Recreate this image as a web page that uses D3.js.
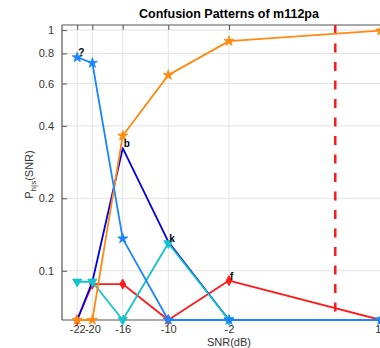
<!DOCTYPE html>
<html><head><meta charset="utf-8">
<script src="https://cdn.jsdelivr.net/npm/d3@7"></script>
<style>body{margin:0;background:#fff;} svg{display:block;font-family:"Liberation Sans",Arial,Helvetica,sans-serif;}</style>
</head><body>
<script>
// ---- data ----
const snr = [-22, -20, -16, -10, -2, 18];
const xTicks = [-22, -20, -16, -10, -2, 18];
const yTicks = [0.1, 0.2, 0.4, 0.6, 0.8, 1];
const yTickLabels = ["0.1", "0.2", "0.4", "0.6", "0.8", "1"];
const seriesNames = ["f", "b", "k", "p", "?"];
const seriesColors = ["#ff1a1a", "#0000e8", "#14c4cc", "#ff8a10", "#1a85ff"];
const seriesMarkers = ["diamond", "none", "triangleDown", "star", "star"];
const valsF = [0, 0.088, 0.088, 0, 0.091, 0];
const valsB = [0, 0.09, 0.323, 0.132, 0, 0];
const valsK = [0.09, 0.09, 0, 0.13, 0, 0];
const valsP = [0, 0, 0.364, 0.65, 0.90, 0.995];
const valsQ = [0.77, 0.73, 0.136, 0, 0, 0];
const labelIdx = [4, 2, 3, -1, 0]; // index of point getting a text label
const thresholdSNR = 12;
const titleText = "Confusion Patterns of m112pa";

// ---- layout ----
const W = 380, H = 348;
const m = {left: 62, right: 396, top: 25, bottom: 320};
const yMin = 0.0624, yMax = 1.05;

const svg = d3.select("body").append("svg").attr("width", W).attr("height", H);
const x = d3.scaleLinear().domain([-24, 20]).range([m.left, m.right]);
const y = d3.scaleLog().domain([yMin, yMax]).range([m.bottom, m.top]);
const yv = v => y(Math.max(v, yMin));

// grid
const g = svg.append("g");
g.selectAll(".gx").data(xTicks).join("line")
  .attr("x1", d => x(d)).attr("x2", d => x(d)).attr("y1", m.top).attr("y2", m.bottom)
  .attr("stroke", "#e3e3e3").attr("stroke-width", 1);
g.selectAll(".gy").data(yTicks).join("line")
  .attr("x1", m.left).attr("x2", m.right).attr("y1", d => y(d)).attr("y2", d => y(d))
  .attr("stroke", "#e3e3e3").attr("stroke-width", 1);

// axes
const axB = d3.axisBottom(x).tickValues(xTicks).tickSize(-5).tickPadding(5).tickFormat(d => String(d));
const axL = d3.axisLeft(y).tickValues(yTicks).tickSize(-5).tickPadding(8).tickFormat((d, i) => yTickLabels[i]);
const axT = d3.axisTop(x).tickValues(xTicks).tickSize(-5).tickFormat("");
function styleAxis(sel) {
  sel.select(".domain").attr("stroke", "#555").attr("stroke-width", 1.2);
  sel.selectAll(".tick line").attr("stroke", "#555");
  sel.selectAll(".tick text").attr("fill", "#333").style("font-size", "11px");
}
svg.append("g").attr("transform", `translate(0,${m.bottom})`).call(axB).call(styleAxis).call(s => s.select(".domain").attr("d", `M${m.left},0H${m.right}`));
svg.append("g").attr("transform", `translate(${m.left},0)`).call(axL).call(styleAxis).call(s => s.select(".domain").attr("d", `M0,${m.top}V${m.bottom}`));
svg.append("g").attr("transform", `translate(0,${m.top})`).call(axT).call(styleAxis).call(s => s.select(".domain").attr("d", `M${m.left},0H${m.right}`));

// threshold dashed line
svg.append("line").attr("x1", x(thresholdSNR)).attr("x2", x(thresholdSNR))
  .attr("y1", m.top).attr("y2", m.bottom)
  .attr("stroke", "#ff1a1a").attr("stroke-width", 2.5).attr("stroke-dasharray", "9,9.5");

// series
const allVals = [valsF, valsB, valsK, valsP, valsQ];
const line = d3.line().x((d, i) => x(snr[i])).y(d => yv(d));
svg.append("clipPath").attr("id", "clip").append("rect")
  .attr("x", m.left - 6).attr("y", m.top - 6).attr("width", m.right - m.left + 12).attr("height", m.bottom - m.top + 12);
const plot = svg.append("g").attr("clip-path", "url(#clip)");
allVals.forEach((vals, s) => {
  const col = seriesColors[s];
  plot.append("path").datum(vals).attr("d", line).attr("fill", "none")
    .attr("stroke", col).attr("stroke-width", 1.8).attr("stroke-linejoin", "round");
  const mk = seriesMarkers[s];
  if (mk !== "none") {
    let sym, size, rot = 0;
    if (mk === "star") { sym = d3.symbolStar; size = 32; }
    else if (mk === "diamond") { sym = d3.symbolDiamond; size = 30; }
    else { sym = d3.symbolTriangle; size = 36; rot = 180; }
    plot.selectAll(null).data(vals).join("path")
      .attr("d", d3.symbol(sym, size))
      .attr("transform", (d, i) => `translate(${x(snr[i])},${yv(d)}) rotate(${rot})`)
      .attr("fill", col).attr("stroke", col).attr("stroke-width", 0.8);
  }
});
// text labels at points
allVals.forEach((vals, s) => {
  const i = labelIdx[s];
  if (i < 0) return;
  svg.append("text").attr("x", x(snr[i]) + 1).attr("y", yv(vals[i]) - 1)
    .attr("font-size", "10px").attr("font-weight", "bold").attr("fill", "#000")
    .text(seriesNames[s]);
});

// title and labels
svg.append("text").attr("x", (m.left + m.right) / 2).attr("y", 18).attr("text-anchor", "middle")
  .attr("font-size", "12.5px").attr("font-weight", "bold").attr("fill", "#000").text(titleText);
svg.append("text").attr("x", (m.left + m.right) / 2).attr("y", 346).attr("text-anchor", "middle")
  .attr("font-size", "11px").attr("fill", "#333").text("SNR(dB)");
const yl = svg.append("text").attr("transform", `translate(33,${(m.top + m.bottom) / 2 + 2}) rotate(-90)`)
  .attr("text-anchor", "middle").attr("font-size", "11px").attr("fill", "#333");
yl.append("tspan").text("P");
yl.append("tspan").attr("font-size", "8px").attr("dy", 3).text("h|s");
yl.append("tspan").attr("dy", -3).text("(SNR)");
</script>
</body></html>
